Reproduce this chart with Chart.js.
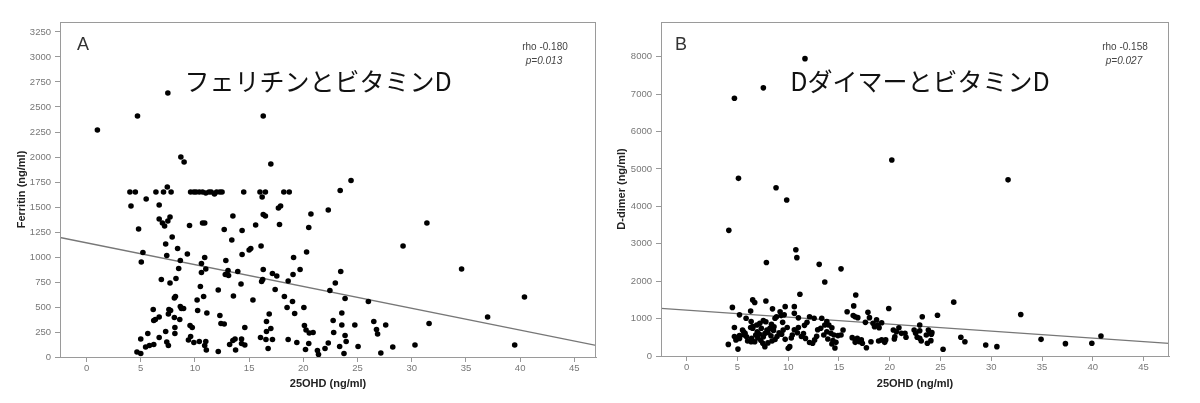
<!DOCTYPE html>
<html>
<head>
<meta charset="utf-8">
<script src="https://cdn.jsdelivr.net/npm/chart.js@4/dist/chart.umd.min.js"></script>
<style>
  html, body { margin: 0; padding: 0; background: #fff; }
  #wrap { position: relative; width: 1200px; height: 403px; }
  .panel { position: absolute; top: 0; width: 600px; height: 403px; }
</style>
</head>
<body>
<div id="wrap">
  <div class="panel" style="left:0"><canvas id="ferritin" width="600" height="403"></canvas></div>
  <div class="panel" style="left:600px"><canvas id="ddimer" width="600" height="403"></canvas></div>
</div>
<script>
// tick labels
const xTicks = [0, 5, 10, 15, 20, 25, 30, 35, 40, 45];
const ferritinTicks = [0, 250, 500, 750, 1000, 1250, 1500, 1750, 2000, 2250, 2500, 2750, 3000, 3250];
const ddimerTicks = [0, 1000, 2000, 3000, 4000, 5000, 6000, 7000, 8000];

// panel A: [25OHD, ferritin]
const ferritinPts = [
  [1.0, 2270], [4.7, 2410], [7.5, 2640], [8.7, 2000], [9.0, 1950], [16.3, 2410], [17.0, 1930],
  [4.0, 1650], [4.5, 1650], [6.4, 1650], [7.1, 1650], [7.45, 1700], [7.8, 1650], [9.6, 1650],
  [9.9, 1650], [10.1, 1650], [10.4, 1650], [10.7, 1650], [11.0, 1640], [11.3, 1650], [11.5, 1650],
  [11.8, 1630], [12.0, 1650], [12.3, 1650], [12.5, 1650], [14.5, 1650], [16.0, 1650], [16.5, 1650],
  [16.2, 1600], [18.2, 1650], [18.7, 1650],
  [5.5, 1580], [4.1, 1510], [6.7, 1520], [6.7, 1380], [7.0, 1340], [7.2, 1310], [7.5, 1360],
  [7.7, 1400], [4.8, 1280], [7.9, 1200], [7.3, 1130], [8.4, 1085], [9.5, 1315], [10.7, 1340],
  [10.9, 1340], [12.7, 1275], [13.5, 1410], [13.4, 1170], [14.35, 1265], [15.0, 1070], [15.15, 1085],
  [15.6, 1320], [16.1, 1110], [16.3, 1425], [16.5, 1410], [17.8, 1325], [17.7, 1490], [17.9, 1510],
  [20.5, 1295], [20.7, 1430], [22.3, 1470], [23.4, 1665], [24.4, 1765], [31.4, 1340], [29.2, 1110],
  [34.6, 880], [40.4, 600], [37.0, 400], [31.6, 335], [39.5, 120],
  [5.2, 1045], [5.05, 950], [7.4, 1015], [8.65, 965], [9.3, 1030], [8.5, 885], [6.9, 775], [7.7, 740],
  [8.25, 785], [8.1, 590], [8.2, 605], [6.15, 475], [6.7, 400], [6.2, 365], [6.35, 375], [7.6, 475],
  [7.75, 465], [7.55, 430], [8.65, 505], [8.75, 485], [8.95, 485], [8.1, 395], [8.6, 375], [8.15, 295],
  [8.15, 235], [7.3, 255], [5.65, 235], [5.0, 180], [5.45, 100], [5.8, 115], [6.2, 125], [6.7, 195],
  [7.4, 150], [7.55, 115], [4.65, 50], [5.0, 35],
  [10.6, 935], [11.0, 880], [10.6, 845], [10.9, 995], [10.5, 705], [10.8, 605], [10.2, 570], [10.25, 465],
  [11.1, 440], [12.15, 670], [12.85, 965], [13.05, 865], [12.8, 825], [13.1, 815], [13.95, 855],
  [13.55, 610], [14.35, 1025], [14.25, 730], [15.35, 570], [16.3, 875], [16.15, 755], [16.25, 775],
  [17.15, 835], [17.55, 810], [17.4, 675], [18.6, 760], [18.25, 605], [19.0, 555], [18.5, 495],
  [19.2, 435], [19.05, 825], [19.7, 875], [19.1, 995], [20.3, 1050], [20.05, 495],
  [12.3, 415], [12.4, 335], [12.7, 330], [14.6, 295], [16.6, 355], [16.85, 430], [16.6, 255], [17.0, 285],
  [9.55, 315], [9.75, 295], [9.6, 205], [9.4, 170], [9.9, 145], [10.4, 155], [11.0, 155], [10.9, 115],
  [11.05, 70], [12.15, 55], [13.2, 125], [13.5, 165], [13.7, 180], [13.75, 70], [14.3, 180], [14.3, 135],
  [14.6, 120], [16.05, 195], [16.55, 175], [17.15, 175], [16.75, 85], [18.6, 175], [19.4, 145],
  [20.1, 315], [20.25, 270], [20.55, 240], [20.9, 245], [20.5, 135], [20.2, 75], [21.3, 65], [21.4, 25],
  [22.0, 85], [22.3, 140],
  [23.45, 855], [22.95, 740], [22.45, 665], [23.85, 585], [26.0, 555], [23.55, 440], [22.75, 365],
  [23.55, 320], [24.75, 320], [26.5, 355], [27.6, 320], [26.75, 275], [26.85, 230], [22.8, 245],
  [23.85, 215], [23.95, 155], [23.35, 105], [25.05, 105], [23.75, 35], [27.15, 40], [28.25, 100],
  [30.3, 120]
];

// panel B: [25OHD, D-dimer]
const ddimerPts = [
  [11.65, 7950], [7.55, 7170], [4.7, 6890], [20.2, 5240], [5.1, 4750], [31.65, 4710], [8.8, 4500],
  [9.85, 4170], [4.15, 3360], [10.75, 2840], [10.85, 2630], [7.85, 2500], [13.05, 2450], [15.2, 2330],
  [13.6, 1980], [11.15, 1650], [16.65, 1630], [19.9, 1270], [26.3, 1440], [32.9, 1110], [24.7, 1090],
  [23.2, 1050],
  [4.5, 1300], [5.2, 1100], [6.3, 1200], [6.5, 1500], [6.7, 1430], [7.8, 1470], [8.45, 1260], [9.7, 1320],
  [10.6, 1320], [10.6, 1140], [11.0, 1020], [9.2, 1185], [8.85, 1050], [8.7, 1010], [9.3, 1080],
  [12.1, 1050], [12.55, 1010], [13.3, 1010], [13.8, 920], [5.85, 1010],
  [4.7, 760], [5.5, 695], [4.7, 520], [5.2, 545], [4.9, 455], [4.1, 310], [5.05, 185], [6.35, 920],
  [6.5, 785], [6.3, 760], [5.75, 605], [5.9, 515], [6.35, 380], [4.85, 430], [5.2, 470], [5.6, 650],
  [5.65, 560], [6.5, 740], [6.9, 830], [6.4, 470], [6.7, 380], [6.95, 650], [7.15, 590], [7.35, 740],
  [7.55, 515], [7.2, 875], [7.55, 945], [7.8, 915], [7.5, 340], [7.7, 250], [7.9, 695], [8.0, 630],
  [8.2, 740], [8.3, 540], [8.35, 850], [8.55, 680], [8.4, 400], [8.7, 440], [9.35, 580], [9.5, 695],
  [9.7, 445], [9.45, 900], [9.6, 1100], [10.0, 205], [10.15, 250], [10.6, 700], [10.9, 620], [11.0, 760],
  [11.3, 520], [11.5, 600], [11.85, 900], [12.4, 340], [12.6, 430], [12.8, 530], [12.9, 700], [13.2, 740],
  [13.5, 560], [6.0, 400], [7.0, 480], [7.3, 420], [8.0, 350], [8.9, 520], [9.1, 620], [7.7, 600],
  [6.8, 560], [8.6, 780], [9.9, 760], [10.3, 480], [10.4, 560], [11.7, 470], [12.1, 360], [11.6, 820],
  [13.6, 830], [14.0, 830], [14.3, 755], [13.8, 650], [14.2, 605], [14.5, 560], [14.9, 545], [13.9, 455],
  [14.4, 410], [14.7, 365], [14.6, 215], [15.4, 695], [15.2, 560], [14.3, 320],
  [15.8, 1185], [16.45, 1340], [16.4, 1080], [16.6, 1050], [16.85, 1025], [17.85, 1170], [18.0, 1025],
  [17.6, 900], [18.35, 875], [18.7, 965], [18.5, 785], [18.85, 830], [18.95, 755], [19.2, 890],
  [16.3, 490], [16.6, 430], [16.8, 475], [17.0, 385], [16.6, 365], [17.2, 430], [17.3, 340], [17.7, 220],
  [18.15, 380], [18.9, 400], [19.2, 430], [19.5, 365], [19.6, 430],
  [20.35, 695], [20.65, 650], [20.5, 515], [20.9, 755], [21.15, 605], [20.45, 455], [21.5, 605],
  [21.6, 500], [22.4, 695], [22.55, 605], [22.95, 675], [22.7, 500], [22.95, 830], [22.95, 475],
  [23.1, 400], [23.8, 695], [23.95, 625], [24.15, 625], [23.7, 340], [24.05, 410], [23.6, 560],
  [24.1, 580], [27.0, 500], [27.4, 380], [25.25, 180], [29.45, 295], [30.55, 250], [34.9, 445],
  [37.3, 330], [39.9, 340], [40.8, 535]
];

// fit lines read at the plot edges
const ferritinFitX = [-2.45, 47.0];
const ferritinFitY = [1195, 116];
const ddimerFitX = [-2.53, 47.5];
const ddimerFitY = [1275, 340];

Chart.defaults.font.family = "'Liberation Sans', Arial, sans-serif";
Chart.defaults.animation = false;

// frame around the plot area + the in-plot labels
const framePlugin = {
  id: 'frame',
  afterDraw(chart, args, opts) {
    const { ctx, chartArea: ca } = chart;
    ctx.save();
    ctx.strokeStyle = '#9a9a9a';
    ctx.lineWidth = 1;
    ctx.strokeRect(ca.left + 0.5, ca.top + 0.5, ca.right - ca.left - 1, ca.bottom - ca.top);

    ctx.fillStyle = '#333';
    ctx.textBaseline = 'middle';
    ctx.textAlign = 'left';
    ctx.font = "18px 'Liberation Sans', Arial, sans-serif";
    ctx.fillText(opts.letter, opts.letterX, 45);

    ctx.fillStyle = '#111';
    ctx.textAlign = 'center';
    ctx.font = "25px 'Noto Sans CJK JP', sans-serif";
    ctx.fillText(opts.title, opts.titleX, 81);

    ctx.fillStyle = '#444';
    ctx.font = "10px 'Liberation Sans', Arial, sans-serif";
    ctx.fillText(opts.rho, opts.rhoX, 47);
    ctx.font = "italic 10px 'Liberation Sans', Arial, sans-serif";
    ctx.fillText(opts.p, opts.rhoX - 1, 61);
    ctx.restore();
  }
};

function makeChart(id, pts, fitX, fitY, yTicks, cfg) {
  const tickFont = { size: 9.5 };
  return new Chart(document.getElementById(id), {
    type: 'scatter',
    data: {
      datasets: [
        {
          data: pts.map(p => ({ x: p[0], y: p[1] })),
          backgroundColor: '#000',
          borderWidth: 0,
          pointRadius: 2.8
        },
        {
          type: 'line',
          data: fitX.map((x, i) => ({ x: x, y: fitY[i] })),
          borderColor: '#777',
          borderWidth: 1.3,
          pointRadius: 0,
          fill: false
        }
      ]
    },
    options: {
      responsive: false,
      layout: { padding: { top: 22, right: cfg.padRight, left: 0, bottom: 0 } },
      plugins: {
        legend: { display: false },
        tooltip: { enabled: false },
        frame: cfg.notes
      },
      scales: {
        x: {
          type: 'linear',
          min: fitX[0],
          max: fitX[1],
          afterBuildTicks: s => { s.ticks = xTicks.map(v => ({ value: v })); },
          afterFit: s => { s.height = cfg.xHeight; },
          grid: { drawOnChartArea: false, drawTicks: true, tickLength: 5, color: '#999' },
          border: { color: '#9a9a9a' },
          ticks: { color: '#777', font: tickFont, padding: 1, maxRotation: 0, callback: v => String(v) },
          title: {
            display: true,
            text: '25OHD (ng/ml)',
            color: '#222',
            font: { size: 11, weight: 'bold' },
            padding: { top: 0, bottom: 12 }
          }
        },
        y: {
          type: 'linear',
          min: 0,
          max: cfg.yMax,
          afterBuildTicks: s => { s.ticks = yTicks.map(v => ({ value: v })); },
          afterFit: s => { s.width = cfg.yWidth; },
          grid: { drawOnChartArea: false, drawTicks: true, tickLength: 5, color: '#999' },
          border: { color: '#9a9a9a' },
          ticks: { color: '#777', font: tickFont, padding: 4, callback: v => String(v) },
          title: {
            display: true,
            text: cfg.yTitle,
            color: '#222',
            font: { size: 11, weight: 'bold' },
            padding: { top: 15, bottom: 0 }
          }
        }
      }
    },
    plugins: [framePlugin]
  });
}

makeChart('ferritin', ferritinPts, ferritinFitX, ferritinFitY, ferritinTicks, {
  padRight: 2, xHeight: 46, yWidth: 60, yMax: 3350, yTitle: 'Ferritin (ng/ml)',
  notes: { letter: 'A', letterX: 77, title: 'フェリチンとビタミンD', titleX: 318, rho: 'rho -0.180', rhoX: 545, p: 'p=0.013' }
});

makeChart('ddimer', ddimerPts, ddimerFitX, ddimerFitY, ddimerTicks, {
  padRight: 31, xHeight: 47, yWidth: 61, yMax: 8930, yTitle: 'D-dimer (ng/ml)',
  notes: { letter: 'B', letterX: 75, title: 'DダイマーとビタミンD', titleX: 320, rho: 'rho -0.158', rhoX: 525, p: 'p=0.027' }
});
</script>
</body>
</html>
